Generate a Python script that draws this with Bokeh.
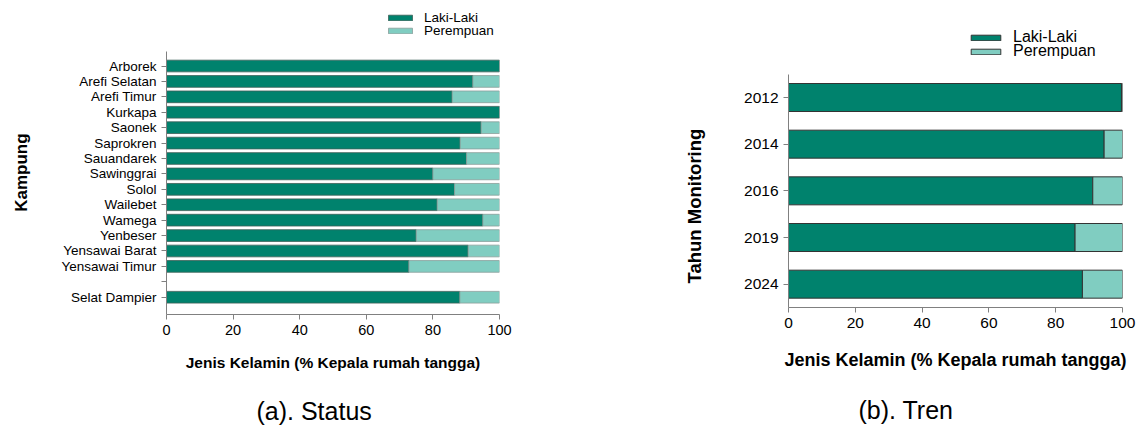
from bokeh.plotting import figure
from bokeh.models import (FactorRange, Range1d, Legend, LegendItem, Title,
                          ColumnDataSource, FixedTicker)
from bokeh.layouts import row
from bokeh.embed import file_html
from bokeh.resources import INLINE

# ---------------- data ----------------
kampung = ["Arborek", "Arefi Selatan", "Arefi Timur", "Kurkapa", "Saonek",
           "Saprokren", "Sauandarek", "Sawinggrai", "Solol", "Wailebet",
           "Wamega", "Yenbeser", "Yensawai Barat", "Yensawai Timur",
           "Selat Dampier"]
laki_a = [100.0, 92.0, 85.8, 100.0, 94.5, 88.2, 90.1, 80.0, 86.5, 81.3,
          95.0, 75.0, 90.6, 72.8, 88.1]
perempuan_a = [0.0, 8.0, 14.2, 0.0, 5.5, 11.8, 9.9, 20.0, 13.5, 18.7,
               5.0, 25.0, 9.4, 27.2, 11.9]
# category order on axis (top to bottom), with an empty slot before total
kampung_axis = kampung[:14] + [" "] + kampung[14:]

tahun = ["2012", "2014", "2016", "2019", "2024"]
laki_b = [99.7, 94.5, 91.1, 85.8, 88.0]
perempuan_b = [0.3, 5.5, 8.9, 14.2, 12.0]

x_ticks = [0, 20, 40, 60, 80, 100]
series_labels = ["Laki-Laki", "Perempuan"]

# empty slots above the bars that hold the legend inside the frame
legend_room_a = ["  ", "   ", "    "]
legend_room_b = ["  "]

DARK = "#00826D"
LIGHT = "#80CDC1"
FONT = "Liberation Sans"
NB = "\u00a0"


def style_axes(p, xtick_size, ytick_size, xlabel_size, ylabel_size):
    for ax in (p.xaxis[0], p.yaxis[0]):
        ax.axis_line_color = "#808080"
        ax.major_tick_line_color = "#808080"
        ax.major_tick_out = 5
        ax.major_tick_in = 0
        ax.minor_tick_line_color = None
        ax.major_label_text_font = FONT
        ax.major_label_text_color = "black"
        ax.axis_label_text_font = FONT
        ax.axis_label_text_font_style = "bold"
        ax.axis_label_text_color = "black"
    p.xaxis.axis_label_text_font_size = xlabel_size
    p.yaxis.axis_label_text_font_size = ylabel_size
    p.xaxis.major_label_text_font_size = xtick_size
    p.yaxis.major_label_text_font_size = ytick_size
    p.xaxis.ticker = FixedTicker(ticks=x_ticks)
    p.grid.visible = False
    p.outline_line_color = None


def add_legends(p, renderers, vx, vys, font_size, gw, gh, standoff):
    for r, lab, vy in zip(renderers, series_labels, vys):
        lg = Legend(items=[LegendItem(label=lab, renderers=[r])],
                    location=(vx, vy),
                    padding=0, margin=0, spacing=0,
                    border_line_color=None, background_fill_alpha=0,
                    glyph_width=gw, glyph_height=gh, label_height=gh,
                    label_standoff=standoff, label_text_color="black",
                    label_text_font=FONT, label_text_font_size=font_size)
        p.add_layout(lg)


def add_caption(p, text, offset, gap):
    # an invisible spacer title pushes the caption further down
    p.add_layout(Title(text=NB, text_font_size="1px", standoff=gap), "below")
    p.add_layout(Title(text=text, align="left", offset=offset,
                       standoff=0, vertical_align="bottom",
                       text_font=FONT, text_font_size="25px",
                       text_font_style="normal", text_color="black"), "below")


# ---------------- panel (a) ----------------
src_a = ColumnDataSource(dict(kampung=kampung, laki=laki_a, perempuan=perempuan_a))
p1 = figure(width=576, height=432,
            y_range=FactorRange(factors=list(reversed(kampung_axis)) + legend_room_a,
                                range_padding=0.62, range_padding_units="absolute"),
            x_range=Range1d(0, 100),
            output_backend="svg", toolbar_location=None,
            min_border_left=166, min_border_right=77,
            min_border_top=2, min_border_bottom=118)
p1.frame_align = False
ra = p1.hbar_stack(["laki", "perempuan"], y="kampung", height=0.76,
                   fill_color=[DARK, LIGHT], line_color=["#3d5f58", "#8a9e9a"],
                   line_width=0.8, source=src_a)
style_axes(p1, "14.5px", "13.5px", "15.5px", "17px")
p1.yaxis.bounds = (-0.62, 16.45)
p1.yaxis.axis_label = "Kampung" + NB * 6
p1.xaxis.axis_label = "Jenis Kelamin (% Kepala rumah tangga)"
p1.yaxis.axis_label_standoff = 27
p1.xaxis.axis_label_standoff = 16
add_legends(p1, ra, 219, [289, 276], "13.5px", 30, 7, 9)
add_caption(p1, "(a). Status", 90, 18)

# ---------------- panel (b) ----------------
src_b = ColumnDataSource(dict(tahun=tahun, laki=laki_b, perempuan=perempuan_b))
p2 = figure(width=560, height=432,
            y_range=FactorRange(factors=list(reversed(tahun)) + legend_room_b),
            x_range=Range1d(0, 100),
            output_backend="svg", toolbar_location=None,
            min_border_left=212, min_border_right=14,
            min_border_top=27, min_border_bottom=125)
p2.frame_align = False
rb = p2.hbar_stack(["laki", "perempuan"], y="tahun", height=0.6,
                   fill_color=[DARK, LIGHT], line_color="#333333",
                   line_width=1, source=src_b)
style_axes(p2, "15.5px", "15.5px", "18px", "18.5px")
p2.yaxis.bounds = (0, 5)
p2.yaxis.axis_label = "Tahun Monitoring" + NB * 15
p2.xaxis.axis_label = "Jenis Kelamin (% Kepala rumah tangga)"
p2.yaxis.axis_label_standoff = 36
p2.xaxis.axis_label_standoff = 19
add_legends(p2, rb, 179, [261, 247], "16px", 37, 7, 9)
add_caption(p2, "(b). Tren", 70, 18)

layout = row(p1, p2)
open("out.html", "w").write(file_html(layout, INLINE))
